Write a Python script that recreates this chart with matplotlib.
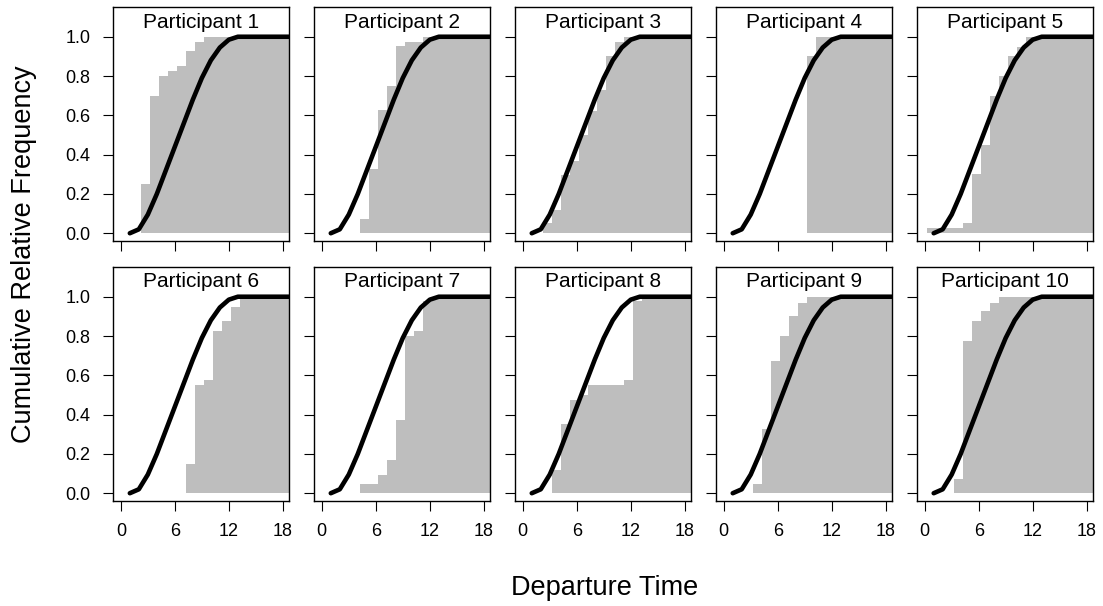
import matplotlib
matplotlib.use("Agg")
import matplotlib.pyplot as plt
import numpy as np

plt.rcParams['font.family'] = ['Liberation Sans', 'DejaVu Sans']

# model curve (cumulative) at departure times 1..19
curve_t = list(range(1, 20))
curve_p = [0.0, 0.02, 0.095, 0.20, 0.32, 0.44, 0.56, 0.68, 0.79, 0.88,
           0.945, 0.985, 1.0, 1.0, 1.0, 1.0, 1.0, 1.0, 1.0]

# observed cumulative relative frequency per participant, bins 0..18
p1 = [0, 0, 0.25, 0.70, 0.80, 0.825, 0.85, 0.925, 0.975, 1, 1, 1, 1, 1, 1, 1, 1, 1, 1]
p2 = [0, 0, 0, 0, 0.073, 0.325, 0.627, 0.75, 0.955, 0.975, 0.975, 1, 1, 1, 1, 1, 1, 1, 1]
p3 = [0, 0, 0.05, 0.12, 0.295, 0.37, 0.50, 0.62, 0.73, 0.90, 0.975, 1, 1, 1, 1, 1, 1, 1, 1]
p4 = [0, 0, 0, 0, 0, 0, 0, 0, 0, 0.90, 1, 1, 1, 1, 1, 1, 1, 1, 1]
p5 = [0.025, 0.025, 0.025, 0.025, 0.05, 0.30, 0.45, 0.70, 0.80, 0.90, 0.95, 1, 1, 1, 1, 1, 1, 1, 1]
p6 = [0, 0, 0, 0, 0, 0, 0, 0.15, 0.55, 0.575, 0.825, 0.875, 0.95, 0.99, 1, 1, 1, 1, 1]
p7 = [0, 0, 0, 0, 0.045, 0.045, 0.095, 0.17, 0.375, 0.80, 0.825, 0.98, 0.99, 1, 1, 1, 1, 1, 1]
p8 = [0, 0, 0, 0.12, 0.35, 0.475, 0.50, 0.55, 0.55, 0.55, 0.55, 0.575, 0.98, 1, 1, 1, 1, 1, 1]
p9 = [0, 0, 0, 0.045, 0.325, 0.675, 0.80, 0.90, 0.97, 1, 1, 1, 1, 1, 1, 1, 1, 1, 1]
p10 = [0, 0, 0, 0.07, 0.775, 0.875, 0.925, 0.97, 1, 1, 1, 1, 1, 1, 1, 1, 1, 1, 1]
participants = [p1, p2, p3, p4, p5, p6, p7, p8, p9, p10]

bin_edges = np.arange(20) + 0.25
xticks = [0, 6, 12, 18]
yticks = [0.0, 0.2, 0.4, 0.6, 0.8, 1.0]

fig = plt.figure(figsize=(11.03, 6.06), dpi=100)

left0 = 0.1022
w = 0.1601
step = 0.1822
bottoms = [0.6028, 0.1738]
h = 0.3852

for i, obs in enumerate(participants):
    row = i // 5
    col = i % 5
    ax = fig.add_axes([left0 + col * step, bottoms[row], w, h])
    ax.stairs(obs, bin_edges, baseline=0, fill=True, color='#bebebe', lw=0)
    ax.plot(curve_t, curve_p, color='black', lw=3.3, solid_capstyle='round',
            solid_joinstyle='round', zorder=3)
    ax.set_xlim(-0.9, 18.72)
    ax.set_ylim(-0.038, 1.15)
    ax.set_xticks(xticks)
    ax.set_yticks(yticks)
    ax.tick_params(direction='out', length=7, width=0.8, labelsize=13, pad=9)
    if row == 0:
        ax.tick_params(labelbottom=False)
    if col > 0:
        ax.tick_params(labelleft=False)
    else:
        ax.set_yticklabels(['%.1f' % v for v in yticks])
    for s in ax.spines.values():
        s.set_linewidth(1.0)
    ax.text(0.5, 1.075, 'Participant %d' % (i + 1), transform=ax.get_yaxis_transform(),
            ha='center', va='center', fontsize=15)

fig.text(0.0214, 0.581, 'Cumulative Relative Frequency', rotation=90,
         ha='center', va='center', fontsize=19.5)
fig.text(0.5485, 0.0297, 'Departure Time', ha='center', va='center', fontsize=19.5)

fig.savefig('out.png', dpi=100)
